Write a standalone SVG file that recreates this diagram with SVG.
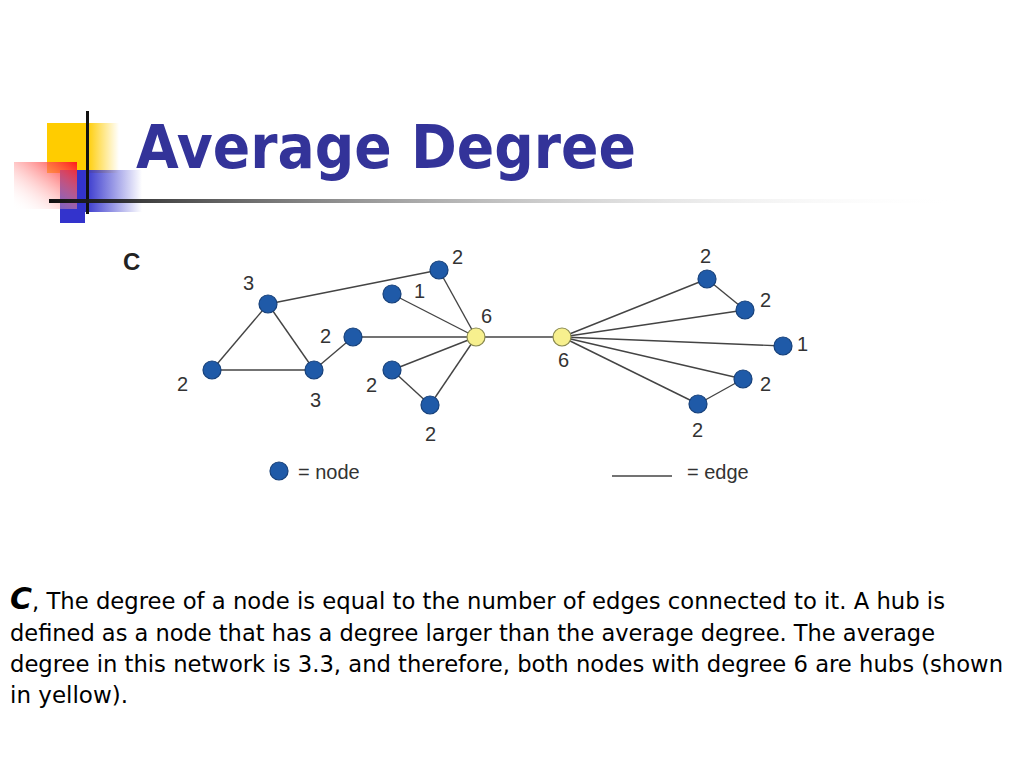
<svg xmlns="http://www.w3.org/2000/svg" width="1024" height="768" viewBox="0 0 1024 768">
<style>
.edge{stroke:#444;stroke-width:1.4;fill:none}
.n{fill:#1f5aa8;stroke:#16407a;stroke-width:1.2}
.hub{fill:#f7f08e;stroke:#8a8a50;stroke-width:1.2}
.lbl{font-family:"Liberation Sans",Arial,sans-serif;font-size:20px;fill:#333}
.body{font-family:"DejaVu Sans",Verdana,sans-serif;font-size:23px;fill:#000}
</style>
<defs>
<linearGradient id="gY" x1="0" y1="0" x2="1" y2="0"><stop offset="0.55" stop-color="#ffcc00"/><stop offset="1" stop-color="#ffcc00" stop-opacity="0"/></linearGradient>
<linearGradient id="gR" x1="1" y1="0" x2="0" y2="1"><stop offset="0" stop-color="#ff1a1a"/><stop offset="1" stop-color="#ffffff" stop-opacity="0"/></linearGradient>
<linearGradient id="gB" x1="0" y1="0" x2="1" y2="0"><stop offset="0.3" stop-color="#3333cc"/><stop offset="1" stop-color="#3333cc" stop-opacity="0"/></linearGradient>
<linearGradient id="gL" x1="0" y1="0" x2="1" y2="0"><stop offset="0" stop-color="#111"/><stop offset="1" stop-color="#fff" stop-opacity="0"/></linearGradient>
</defs>
<rect width="1024" height="768" fill="#fff"/>
<g id="decoration">
<rect x="47" y="123" width="72" height="50" fill="url(#gY)"/>
<rect x="60" y="170" width="82" height="42" fill="url(#gB)"/>
<rect x="60" y="205" width="25" height="18" fill="#3333cc"/>
<rect x="14" y="162" width="63" height="47" fill="url(#gR)"/>
<rect x="86" y="111" width="3" height="103" fill="#111"/>
<rect x="49" y="199" width="915" height="4" fill="url(#gL)"/>
</g>
<text id="title" x="136" y="168" font-family="'DejaVu Sans',Verdana,sans-serif" font-weight="bold" font-size="60" fill="#333399" textLength="500" lengthAdjust="spacingAndGlyphs">Average Degree</text>
<text x="123" y="270" font-family="'Liberation Sans',Arial,sans-serif" font-weight="bold" font-size="24" fill="#222">C</text>
<g id="connectors">
<line class="edge" x1="268" y1="304" x2="212" y2="370"/>
<line class="edge" x1="268" y1="304" x2="314" y2="370"/>
<line class="edge" x1="212" y1="370" x2="314" y2="370"/>
<line class="edge" x1="314" y1="370" x2="353" y2="337"/>
<line class="edge" x1="268" y1="304" x2="439" y2="270"/>
<line class="edge" x1="439" y1="270" x2="476" y2="337"/>
<line class="edge" x1="392" y1="294" x2="476" y2="337"/>
<line class="edge" x1="353" y1="337" x2="476" y2="337"/>
<line class="edge" x1="392" y1="370" x2="476" y2="337"/>
<line class="edge" x1="392" y1="370" x2="430" y2="405"/>
<line class="edge" x1="430" y1="405" x2="476" y2="337"/>
<line class="edge" x1="476" y1="337" x2="562" y2="337"/>
<line class="edge" x1="562" y1="337" x2="707" y2="279"/>
<line class="edge" x1="707" y1="279" x2="745" y2="310"/>
<line class="edge" x1="562" y1="337" x2="745" y2="310"/>
<line class="edge" x1="562" y1="337" x2="783" y2="346"/>
<line class="edge" x1="562" y1="337" x2="743" y2="379"/>
<line class="edge" x1="743" y1="379" x2="698" y2="404"/>
<line class="edge" x1="562" y1="337" x2="698" y2="404"/>
</g>
<g id="nA"><circle class="n" cx="268" cy="304" r="9"/><text class="lbl" x="243" y="290">3</text></g>
<g id="nB"><circle class="n" cx="212" cy="370" r="9"/><text class="lbl" x="177" y="391">2</text></g>
<g id="nC"><circle class="n" cx="314" cy="370" r="9"/><text class="lbl" x="310" y="407">3</text></g>
<g id="nD"><circle class="n" cx="353" cy="337" r="9"/><text class="lbl" x="320" y="343">2</text></g>
<g id="nE"><circle class="n" cx="439" cy="270" r="9"/><text class="lbl" x="452" y="264">2</text></g>
<g id="nF"><circle class="n" cx="392" cy="294" r="9"/><text class="lbl" x="414" y="298">1</text></g>
<g id="hub1"><circle class="hub" cx="476" cy="337" r="9"/><text class="lbl" x="481" y="323">6</text></g>
<g id="nG"><circle class="n" cx="392" cy="370" r="9"/><text class="lbl" x="366" y="392">2</text></g>
<g id="nH"><circle class="n" cx="430" cy="405" r="9"/><text class="lbl" x="425" y="441">2</text></g>
<g id="hub2"><circle class="hub" cx="562" cy="337" r="9"/><text class="lbl" x="558" y="367">6</text></g>
<g id="nR1"><circle class="n" cx="707" cy="279" r="9"/><text class="lbl" x="700" y="263">2</text></g>
<g id="nR2"><circle class="n" cx="745" cy="310" r="9"/><text class="lbl" x="760" y="307">2</text></g>
<g id="nR3"><circle class="n" cx="783" cy="346" r="9"/><text class="lbl" x="797" y="351">1</text></g>
<g id="nR4"><circle class="n" cx="743" cy="379" r="9"/><text class="lbl" x="760" y="391">2</text></g>
<g id="nR5"><circle class="n" cx="698" cy="404" r="9"/><text class="lbl" x="692" y="437">2</text></g>
<g id="legend">
<circle class="n" cx="279" cy="471" r="9"/>
<text class="lbl" x="298" y="479">= node</text>
<line class="edge" x1="612" y1="476" x2="672" y2="476"/>
<text class="lbl" x="687" y="479">= edge</text>
</g>
<g id="caption">
<text x="10" y="609" font-family="'DejaVu Sans',Verdana,sans-serif" font-weight="bold" font-style="italic" font-size="30">C</text>
<text class="body" x="32" y="609" textLength="913" lengthAdjust="spacingAndGlyphs">, The degree of a node is equal to the number of edges connected to it. A hub is</text>
<text class="body" x="10" y="641" textLength="925" lengthAdjust="spacingAndGlyphs">defined as a node that has a degree larger than the average degree. The average</text>
<text class="body" x="10" y="672" textLength="993" lengthAdjust="spacingAndGlyphs">degree in this network is 3.3, and therefore, both nodes with degree 6 are hubs (shown</text>
<text class="body" x="10" y="703" textLength="118" lengthAdjust="spacingAndGlyphs">in yellow).</text>
</g>
</svg>
